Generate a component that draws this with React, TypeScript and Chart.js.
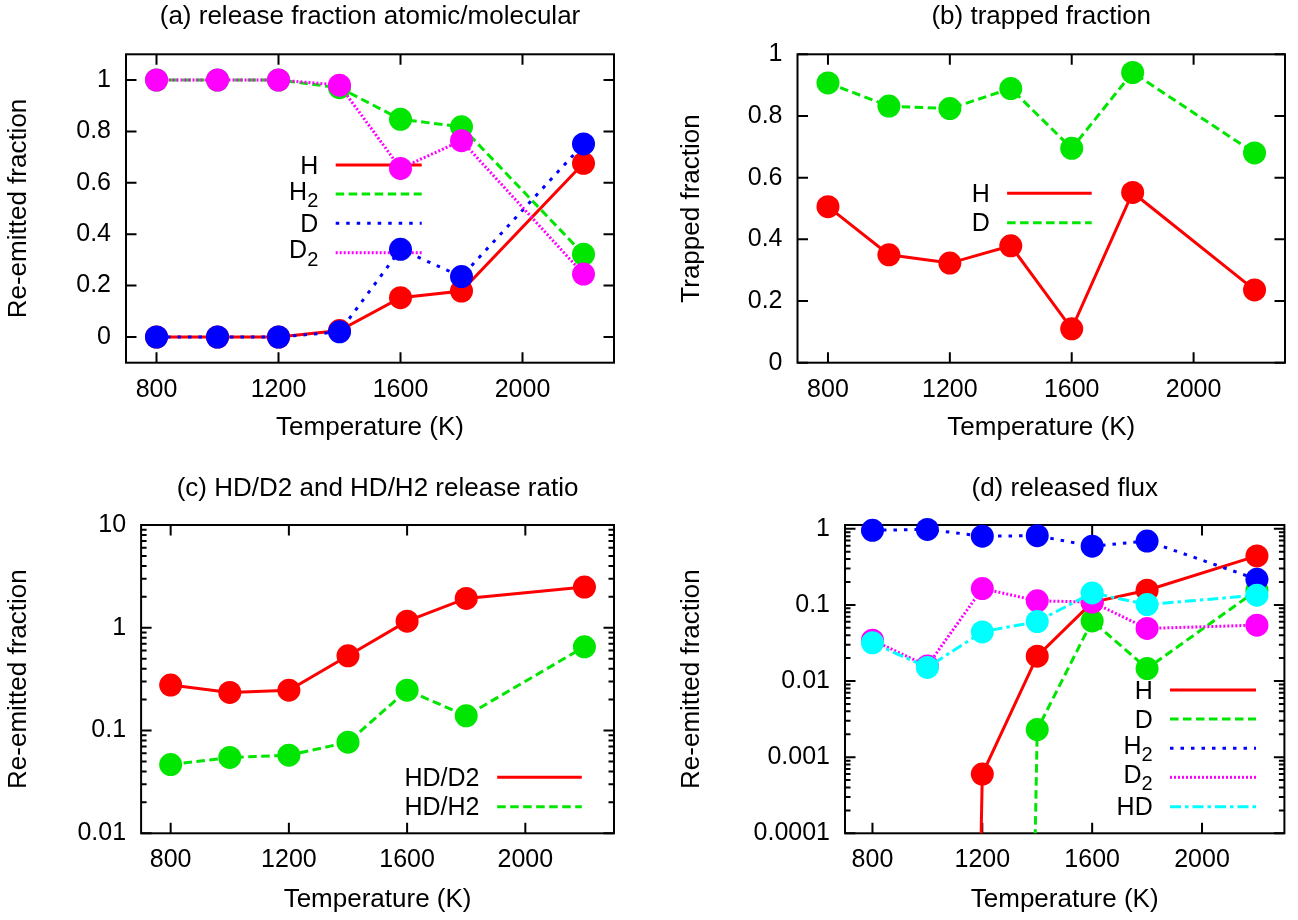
import React, { useEffect, useRef } from 'react';
import { Chart, registerables } from 'chart.js';

Chart.register(...registerables);

// ---------------- data ----------------
const temperatures = [800, 1000, 1200, 1400, 1600, 1800, 2200];
const tempTickValues = [800, 1200, 1600, 2000];
const tempTickLabels = ['800', '1200', '1600', '2000'];

// (a) release fraction atomic/molecular
const releaseH = [0, 0, 0, 0.025, 0.153, 0.179, 0.676];
const releaseH2 = [1, 1, 1, 0.97, 0.847, 0.818, 0.322];
const releaseD = [0, 0, 0, 0.02, 0.341, 0.235, 0.751];
const releaseD2 = [1, 1, 1, 0.98, 0.656, 0.764, 0.245];
const releaseTicks = [0, 0.2, 0.4, 0.6, 0.8, 1];
const releaseTickLabels = ['0', '0.2', '0.4', '0.6', '0.8', '1'];

// (b) trapped fraction
const trappedH = [0.506, 0.35, 0.323, 0.379, 0.11, 0.552, 0.236];
const trappedD = [0.907, 0.832, 0.824, 0.889, 0.695, 0.941, 0.68];
const trappedTicks = [0, 0.2, 0.4, 0.6, 0.8, 1];
const trappedTickLabels = ['0', '0.2', '0.4', '0.6', '0.8', '1'];

// (c) HD/D2 and HD/H2 release ratio
const ratioHDD2 = [0.277, 0.235, 0.247, 0.534, 1.16, 1.93, 2.49];
const ratioHDH2 = [0.0467, 0.0547, 0.0575, 0.077, 0.247, 0.139, 0.653];
const ratioTicks = [0.01, 0.1, 1, 10];
const ratioTickLabels = ['0.01', '0.1', '1', '10'];

// (d) released flux (values ~0 shown as a vanishing number on the log axis)
const ZERO = 1e-40;
const fluxH = [ZERO, ZERO, 0.0006, 0.0212, 0.108, 0.156, 0.44];
const fluxD = [ZERO, ZERO, ZERO, 0.0023, 0.0616, 0.0146, 0.156];
const fluxH2 = [0.955, 0.98, 0.8, 0.81, 0.59, 0.69, 0.217];
const fluxD2 = [0.0344, 0.0158, 0.164, 0.113, 0.109, 0.049, 0.0542];
const fluxHD = [0.0317, 0.0151, 0.0442, 0.0605, 0.1436, 0.101, 0.134];
const fluxTicks = [0.0001, 0.001, 0.01, 0.1, 1];
const fluxTickLabels = ['0.0001', '0.001', '0.01', '0.1', '1'];

// ---------------- styles ----------------
const FONT = '"Liberation Sans", Arial, Helvetica, sans-serif';
const RED = '#ff0000';
const GREEN = '#00e600';
const BLUE = '#0000ff';
const MAGENTA = '#ff00ff';
const CYAN = '#00ffff';
const SOLID: number[] = [];
const DASHED = [8.5, 4.5];
const DOTTED = [3.5, 7];
const FINE = [2, 2];
const DASHDOT = [11, 4, 3.5, 4];

const W = 649;
const H = 460;

function logMinors(decades: number[]) {
  const out: number[] = [];
  decades.forEach((d) => {
    for (let k = 2; k <= 9; k++) out.push(d * k);
  });
  return out;
}

type Series = { parts: [string, boolean][]; data: number[]; color: string; dash: number[] };
type Spec = {
  key: string;
  left: number;
  top: number;
  area: { l: number; t: number; r: number; b: number };
  title: string;
  titleCenterY: number;
  yTitle: string;
  yTitleX: number;
  xTitleY: number;
  yType: 'linear' | 'logarithmic';
  yMin: number;
  yMax: number;
  yTicks: number[];
  yTickLabels: string[];
  yMinor: number[];
  series: Series[];
  legend: { textRight: number; x1: number; x2: number; rows: number[] };
};

const specs: Spec[] = [
  {
    key: 'a',
    left: 0,
    top: 0,
    area: { l: 126, t: 54.3, r: 614, b: 362.7 },
    title: '(a) release fraction atomic/molecular',
    titleCenterY: 16.7,
    yTitle: 'Re-emitted fraction',
    yTitleX: 19,
    xTitleY: 428.3,
    yType: 'linear',
    yMin: -0.1,
    yMax: 1.1,
    yTicks: releaseTicks,
    yTickLabels: releaseTickLabels,
    yMinor: [],
    series: [
      { parts: [['H', false]], data: releaseH, color: RED, dash: SOLID },
      { parts: [['H', false], ['2', true]], data: releaseH2, color: GREEN, dash: DASHED },
      { parts: [['D', false]], data: releaseD, color: BLUE, dash: DOTTED },
      { parts: [['D', false], ['2', true]], data: releaseD2, color: MAGENTA, dash: FINE },
    ],
    legend: { textRight: 318.3, x1: 335.7, x2: 421.7, rows: [165, 194, 223.3, 252.7] },
  },
  {
    key: 'b',
    left: 649,
    top: 0,
    area: { l: 148.5, t: 54.3, r: 636, b: 362.7 },
    title: '(b) trapped fraction',
    titleCenterY: 16.7,
    yTitle: 'Trapped fraction',
    yTitleX: 42.5,
    xTitleY: 428.3,
    yType: 'linear',
    yMin: 0,
    yMax: 1,
    yTicks: trappedTicks,
    yTickLabels: trappedTickLabels,
    yMinor: [],
    series: [
      { parts: [['H', false]], data: trappedH, color: RED, dash: SOLID },
      { parts: [['D', false]], data: trappedD, color: GREEN, dash: DASHED },
    ],
    legend: { textRight: 340.8, x1: 358.1, x2: 442.7, rows: [193.3, 222.7] },
  },
  {
    key: 'c',
    left: 0,
    top: 460,
    area: { l: 141.1, t: 65, r: 614, b: 373.3 },
    title: '(c) HD/D2 and HD/H2 release ratio',
    titleCenterY: 29.2,
    yTitle: 'Re-emitted fraction',
    yTitleX: 19,
    xTitleY: 440,
    yType: 'logarithmic',
    yMin: 0.01,
    yMax: 10,
    yTicks: ratioTicks,
    yTickLabels: ratioTickLabels,
    yMinor: logMinors([0.01, 0.1, 1]),
    series: [
      { parts: [['HD/D2', false]], data: ratioHDD2, color: RED, dash: SOLID },
      { parts: [['HD/H2', false]], data: ratioHDH2, color: GREEN, dash: DASHED },
    ],
    legend: { textRight: 479.4, x1: 497.2, x2: 581.8, rows: [317.3, 346.7] },
  },
  {
    key: 'd',
    left: 649,
    top: 460,
    area: { l: 196, t: 65, r: 635.4, b: 373.3 },
    title: '(d) released flux',
    titleCenterY: 29.2,
    yTitle: 'Re-emitted fraction',
    yTitleX: 42.5,
    xTitleY: 440,
    yType: 'logarithmic',
    yMin: 0.0001,
    yMax: 1.12,
    yTicks: fluxTicks,
    yTickLabels: fluxTickLabels,
    yMinor: logMinors([0.0001, 0.001, 0.01, 0.1]),
    series: [
      { parts: [['H', false]], data: fluxH, color: RED, dash: SOLID },
      { parts: [['D', false]], data: fluxD, color: GREEN, dash: DASHED },
      { parts: [['H', false], ['2', true]], data: fluxH2, color: BLUE, dash: DOTTED },
      { parts: [['D', false], ['2', true]], data: fluxD2, color: MAGENTA, dash: FINE },
      { parts: [['HD', false]], data: fluxHD, color: CYAN, dash: DASHDOT },
    ],
    legend: { textRight: 503.7, x1: 521, x2: 607, rows: [230, 259, 288.3, 317.3, 346.7] },
  },
];

const TITLE_SIZE = 26;
const TICK_SIZE = 25;
const KEY_SIZE = 25;
const LH = 1.2;

function makeFramePlugin(spec: Spec) {
  return {
    id: 'frame_' + spec.key,
    beforeDatasetsDraw(chart: any) {
      const { ctx, chartArea: a, scales } = chart;
      const major = 10.5;
      const minor = 5.5;
      ctx.save();
      ctx.strokeStyle = '#000';
      ctx.lineWidth = 2;
      ctx.setLineDash([]);
      ctx.beginPath();
      tempTickValues.forEach((v) => {
        const px = scales.x.getPixelForValue(v);
        ctx.moveTo(px, a.bottom);
        ctx.lineTo(px, a.bottom - major);
        ctx.moveTo(px, a.top);
        ctx.lineTo(px, a.top + major);
      });
      spec.yTicks.forEach((v) => {
        const py = scales.y.getPixelForValue(v);
        ctx.moveTo(a.left, py);
        ctx.lineTo(a.left + major, py);
        ctx.moveTo(a.right, py);
        ctx.lineTo(a.right - major, py);
      });
      spec.yMinor.forEach((v) => {
        const py = scales.y.getPixelForValue(v);
        if (py < a.top || py > a.bottom) return;
        ctx.moveTo(a.left, py);
        ctx.lineTo(a.left + minor, py);
        ctx.moveTo(a.right, py);
        ctx.lineTo(a.right - minor, py);
      });
      ctx.stroke();
      ctx.strokeRect(a.left, a.top, a.right - a.left, a.bottom - a.top);

      // key (drawn beneath the data, like the original)
      const lg = spec.legend;
      spec.series.forEach((s, i) => {
        const y = lg.rows[i];
        ctx.strokeStyle = s.color;
        ctx.lineWidth = 3;
        ctx.setLineDash(s.dash);
        ctx.beginPath();
        ctx.moveTo(lg.x1, y);
        ctx.lineTo(lg.x2, y);
        ctx.stroke();
        ctx.setLineDash([]);

        const hasSub = s.parts.some((p) => p[1]);
        const mainFont = `${KEY_SIZE}px ${FONT}`;
        const subFont = `${Math.round(KEY_SIZE * 0.8)}px ${FONT}`;
        let total = 0;
        const widths = s.parts.map(([t, sub]) => {
          ctx.font = sub ? subFont : mainFont;
          const w = ctx.measureText(t).width;
          total += w;
          return w;
        });
        const base = y + KEY_SIZE * 0.345 - (hasSub ? 3 : 0);
        let x = lg.textRight - total;
        ctx.fillStyle = '#000';
        ctx.textAlign = 'left';
        ctx.textBaseline = 'alphabetic';
        s.parts.forEach(([t, sub], k) => {
          ctx.font = sub ? subFont : mainFont;
          ctx.fillText(t, x, sub ? base + 7.5 : base);
          x += widths[k];
        });
      });
      ctx.restore();
    },
  };
}

function buildConfig(spec: Spec): any {
  const a = spec.area;
  const titleLine = TITLE_SIZE * LH;
  const n = spec.series.length;
  return {
    type: 'line',
    data: {
      datasets: spec.series.map((s, i) => ({
        label: s.parts.map((p) => p[0]).join(''),
        data: temperatures.map((t, j) => ({ x: t, y: s.data[j] })),
        borderColor: s.color,
        backgroundColor: s.color,
        borderWidth: 3,
        borderDash: s.dash,
        pointRadius: 11.5,
        pointHoverRadius: 11.5,
        pointBorderWidth: 0,
        pointBackgroundColor: s.color,
        pointStyle: 'circle',
        fill: false,
        tension: 0,
        order: n - i,
        clip: { left: 20, right: 20, top: 20, bottom: 0 },
      })),
    },
    options: {
      responsive: false,
      animation: false,
      devicePixelRatio: 1,
      events: [],
      layout: { padding: { left: 0, top: 0, right: W - a.r, bottom: 0 } },
      plugins: {
        legend: { display: false },
        tooltip: { enabled: false },
        title: {
          display: true,
          text: spec.title,
          fullSize: false,
          color: '#000',
          font: { family: FONT, size: TITLE_SIZE, weight: 'normal', lineHeight: LH },
          padding: {
            top: spec.titleCenterY - titleLine / 2,
            bottom: a.t - (spec.titleCenterY + titleLine / 2),
          },
        },
      },
      scales: {
        x: {
          type: 'linear',
          position: 'bottom',
          min: 700,
          max: 2300,
          afterBuildTicks: (s: any) => {
            s.ticks = tempTickValues.map((v) => ({ value: v }));
          },
          afterFit: (s: any) => {
            s.height = H - a.b;
          },
          grid: { display: false, drawTicks: false },
          border: { display: false },
          ticks: {
            autoSkip: false,
            maxRotation: 0,
            color: '#000',
            padding: 27 - (TICK_SIZE * LH) / 2,
            font: { family: FONT, size: TICK_SIZE, lineHeight: LH },
            callback: (_v: any, i: number) => tempTickLabels[i],
          },
          title: {
            display: true,
            text: 'Temperature (K)',
            color: '#000',
            font: { family: FONT, size: TITLE_SIZE, lineHeight: LH },
            padding: { top: 0, bottom: H - spec.xTitleY - titleLine / 2 },
          },
        },
        y: {
          type: spec.yType,
          position: 'left',
          min: spec.yMin,
          max: spec.yMax,
          afterBuildTicks: (s: any) => {
            s.ticks = spec.yTicks.map((v) => ({ value: v }));
          },
          afterFit: (s: any) => {
            s.width = a.l;
          },
          grid: { display: false, drawTicks: false },
          border: { display: false },
          ticks: {
            autoSkip: false,
            color: '#000',
            padding: 15,
            font: { family: FONT, size: TICK_SIZE, lineHeight: LH },
            callback: (_v: any, i: number) => spec.yTickLabels[i],
          },
          title: {
            display: true,
            text: spec.yTitle,
            color: '#000',
            font: { family: FONT, size: TITLE_SIZE, lineHeight: LH },
            padding: { top: spec.yTitleX - titleLine / 2, bottom: 0 },
          },
        },
      },
    },
    plugins: [makeFramePlugin(spec)],
  };
}

function Panel({ spec }: { spec: Spec }) {
  const ref = useRef<HTMLCanvasElement>(null);
  useEffect(() => {
    const chart = new Chart(ref.current as HTMLCanvasElement, buildConfig(spec));
    return () => chart.destroy();
  }, [spec]);
  return (
    <canvas
      ref={ref}
      width={W}
      height={H}
      style={{ position: 'absolute', left: spec.left, top: spec.top, width: W, height: H }}
    />
  );
}

export default function App() {
  return (
    <div
      style={{
        position: 'absolute',
        left: 0,
        top: 0,
        width: 1298,
        height: 920,
        background: '#ffffff',
        overflow: 'hidden',
      }}
    >
      {specs.map((s) => (
        <Panel key={s.key} spec={s} />
      ))}
    </div>
  );
}
